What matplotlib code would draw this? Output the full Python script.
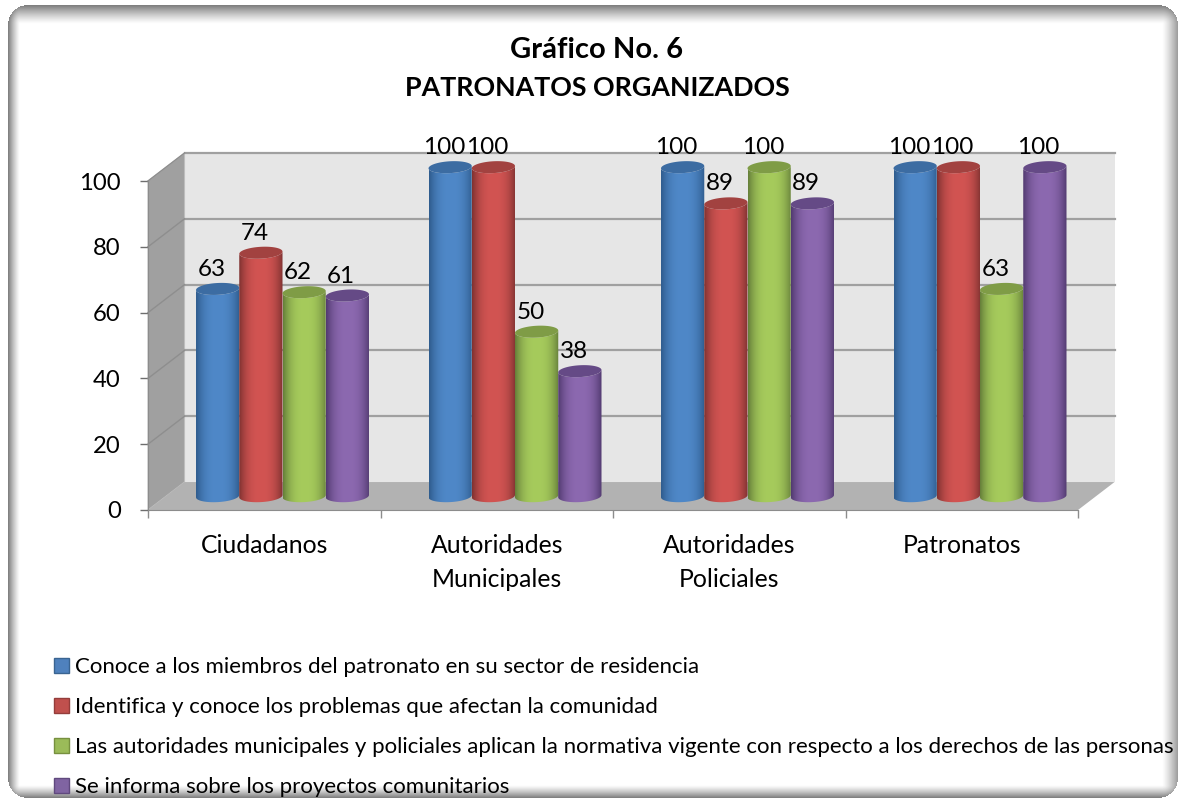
import numpy as np
import matplotlib
matplotlib.use("Agg")
import matplotlib.pyplot as plt
from matplotlib.patches import Polygon, Patch

plt.rcParams['font.family'] = ['Lato', 'DejaVu Sans']

# chart data
categories = ["Ciudadanos", "Autoridades\nMunicipales", "Autoridades\nPoliciales", "Patronatos"]
series_names = [
    "Conoce a los miembros del patronato en su sector de residencia",
    "Identifica y conoce los problemas que afectan la comunidad",
    "Las autoridades municipales y policiales aplican la normativa vigente con respecto a los derechos de las personas",
    "Se informa sobre los proyectos comunitarios",
]
conoce = [63, 100, 100, 100]
identifica = [74, 100, 89, 100]
aplican = [62, 50, 100, 63]
informa = [61, 38, 89, 100]
y_ticks = [0, 20, 40, 60, 80, 100]

all_series = [conoce, identifica, aplican, informa]
mid_colors = ["#4F88C8", "#D25452", "#A6CB5C", "#8C69B0"]
edge_colors = ["#2F5C8E", "#803231", "#66803A", "#523A70"]
top_colors = ["#3C6CA2", "#A24240", "#7F9C46", "#654A86"]
legend_colors = ["#4F81BD", "#C0504D", "#9BBB59", "#8064A2"]
legend_edges = ["#3A6491", "#943D3B", "#77903F", "#60497E"]

W, H = 1178, 800
fig = plt.figure(figsize=(W / 100, H / 100), dpi=100, facecolor="white")


def draw_frame():
    # rounded card with an inner shadow, wider along the top edge
    bg = fig.add_axes([0, 0, 1, 1], zorder=0)
    bg.axis("off")
    xx, yy = np.meshgrid(np.arange(W) + 0.5, np.arange(H) + 0.5)
    x0, x1, y0, y1, r = 8, 1178, 5, 798, 20
    cx, cy = (x0 + x1) / 2, (y0 + y1) / 2
    qx = np.abs(xx - cx) - ((x1 - x0) / 2 - r)
    qy = np.abs(yy - cy) - ((y1 - y0) / 2 - r)
    sd = np.hypot(np.maximum(qx, 0), np.maximum(qy, 0)) + np.minimum(np.maximum(qx, qy), 0) - r
    tx = np.maximum.reduce([(20 - xx) / 12, (xx - 1162) / 20, np.zeros_like(xx)])
    ty = np.maximum.reduce([(24 - yy) / 19, (yy - 785) / 13, np.zeros_like(yy)])
    t = np.clip(np.hypot(tx, ty), 0, 1)
    grey = 1 - 0.52 * t ** 1.25
    grey[sd > 0] = 1.0
    bg.imshow(grey, cmap="gray", vmin=0, vmax=1, extent=(0, W, H, 0), aspect="auto", interpolation="bilinear")


def ellipse_xy(cx, cy, a, b, tilt, t):
    return cx + a * np.cos(t), cy + b * np.sin(t) + tilt * np.cos(t)


draw_frame()

ax = fig.add_axes([148 / W, (H - 510) / H, 930 / W, 329 / H], zorder=1)
ax.patch.set_alpha(0)
ax.set_xlim(0, 4)
ax.set_ylim(0, 100)

# depth of the 3d box in axis units
dx, dy = 0.157, 8.5

ax.add_patch(Polygon([(dx, dy), (4 + dx, dy), (4 + dx, 100 + dy), (dx, 100 + dy)],
                     fc="#E6E6E6", ec="none", clip_on=False, zorder=1))
ax.add_patch(Polygon([(0, 0), (dx, dy), (dx, 100 + dy), (0, 100)],
                     fc="#A0A0A0", ec="#BDBDBD", lw=0.8, clip_on=False, zorder=1))
ax.add_patch(Polygon([(0, 0), (dx, dy), (4 + dx, dy), (4, 0)],
                     fc="#B2B2B2", ec="none", clip_on=False, zorder=1))
for v in y_ticks[1:]:
    ax.plot([dx, 4 + dx], [v + dy, v + dy], color="#A0A0A0", lw=1.6, clip_on=False, zorder=2)
    ax.plot([0, dx], [v, v + dy], color="#8E8E8E", lw=1.0, clip_on=False, zorder=2)

# cylinders
bar_w = 0.186
half_a = bar_w / 2
half_b = 1.8
tilt = 0.35
base = 4.2
t_front = np.linspace(np.pi, 2 * np.pi, 40)
t_all = np.linspace(0, 2 * np.pi, 80)
z = 3
for s, values in enumerate(all_series):
    for c, val in enumerate(values):
        cx = c + 0.5 + dx / 2 + (s - 1.5) * bar_w
        x_bot, y_bot = ellipse_xy(cx, base, half_a, half_b, tilt, t_front)
        x_top, y_top = ellipse_xy(cx, base + val, half_a, half_b, tilt, t_front[::-1])
        body = Polygon(np.column_stack([np.r_[x_bot, x_top], np.r_[y_bot, y_top]]),
                       fc="none", ec="none", clip_on=False, zorder=z)
        ax.add_patch(body)
        mid = np.array(matplotlib.colors.to_rgb(mid_colors[s]))
        edge = np.array(matplotlib.colors.to_rgb(edge_colors[s]))
        u = np.linspace(-1, 1, 64)
        weight = np.abs(u) ** 2.6
        grad = (mid[None, :] * (1 - weight[:, None]) + edge[None, :] * weight[:, None])[None, :, :]
        im = ax.imshow(grad, extent=(cx - half_a, cx + half_a, base - half_b - 1, base + val + half_b + 1),
                       aspect="auto", zorder=z, interpolation="bilinear")
        im.set_clip_box(fig.bbox)
        im.set_clip_path(body)
        x_cap, y_cap = ellipse_xy(cx, base + val, half_a, half_b, tilt, t_all)
        ax.add_patch(Polygon(np.column_stack([x_cap, y_cap]), fc=top_colors[s], ec="none",
                             clip_on=False, zorder=z + 0.5))
        ax.annotate(str(val), xy=(cx, base + val), xytext=(-4.5, 14), textcoords="offset points",
                    ha="center", va="center", fontsize=17.5, color="black", zorder=50,
                    annotation_clip=False)
        z += 1

ax.set_xlim(0, 4)
ax.set_ylim(0, 100)

# axes
for side in ["top", "right"]:
    ax.spines[side].set_visible(False)
for side in ["left", "bottom"]:
    ax.spines[side].set_color("#8C8C8C")
    ax.spines[side].set_zorder(2)
ax.set_yticks(y_ticks)
ax.set_xticks(range(5))
ax.set_xticklabels([])
ax.set_xticks(np.arange(4) + 0.5, categories, minor=True, fontsize=17.8, linespacing=1.55)
ax.tick_params(axis="y", length=6, width=1, color="#6E6E6E", pad=13.5, labelsize=17.2)
ax.tick_params(axis="x", which="major", length=6, width=1, color="#8C8C8C")
ax.tick_params(axis="x", which="minor", length=0, pad=17.5)
for lab in ax.get_yticklabels():
    lab.set_va("center_baseline")

# title
fig.text(597 / W, 1 - 50 / H, "Gráfico No. 6", ha="center", va="center", fontsize=21, fontweight="bold")
fig.text(597 / W, 1 - 88 / H, "PATRONATOS ORGANIZADOS", ha="center", va="center", fontsize=19.3, fontweight="bold")

# legend
handles = [Patch(fc=f, ec=e, lw=1) for f, e in zip(legend_colors, legend_edges)]
leg = fig.legend(handles, series_names, loc="upper left", bbox_to_anchor=(54 / W, 1 - 657 / H),
                 bbox_transform=fig.transFigure, frameon=False, fontsize=16, handlelength=0.68,
                 handleheight=0.68, handletextpad=0.28, labelspacing=0.9, borderpad=0, borderaxespad=0)

fig.savefig("out.png", dpi=100)
